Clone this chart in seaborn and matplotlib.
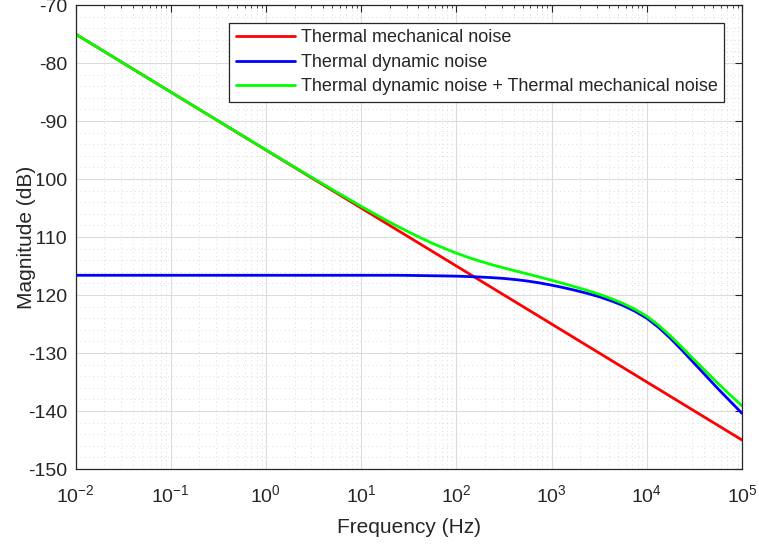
import matplotlib
matplotlib.use("Agg")
import matplotlib.pyplot as plt
import pandas as pd
import seaborn as sns
from matplotlib.ticker import LogLocator, MultipleLocator, NullFormatter, FixedLocator

# ---- data ----
freq_hz = [0.01, 0.01778, 0.03162, 0.05623, 0.1, 0.1778, 0.3162, 0.5623,
           1, 1.778, 3.162, 5.623,
           10, 13.34, 17.78, 23.71, 31.62, 42.17, 56.23, 74.99,
           100, 133.4, 177.8, 237.1, 316.2, 421.7, 562.3, 749.9,
           1000, 1334, 1778, 2371, 3162, 4217, 5623, 7499,
           10000, 13340, 17780, 23710, 31620, 42170, 56230, 74990,
           100000]

thermal_mechanical_db = [-75.0, -77.5, -80.0, -82.5, -85.0, -87.5, -90.0, -92.5,
                         -95.0, -97.5, -100.0, -102.5,
                         -105.0, -106.25, -107.5, -108.75, -110.0, -111.25, -112.5, -113.75,
                         -115.0, -116.25, -117.5, -118.75, -120.0, -121.25, -122.5, -123.75,
                         -125.0, -126.25, -127.5, -128.75, -130.0, -131.25, -132.5, -133.75,
                         -135.0, -136.25, -137.5, -138.75, -140.0, -141.25, -142.5, -143.75,
                         -145.0]

thermal_dynamic_db = [-116.6, -116.6, -116.6, -116.6, -116.6, -116.6, -116.6, -116.6,
                      -116.6, -116.6, -116.6, -116.6,
                      -116.6, -116.6, -116.6, -116.6, -116.62, -116.65, -116.68, -116.71,
                      -116.75, -116.82, -116.9, -117.01, -117.15, -117.35, -117.6, -117.92,
                      -118.3, -118.73, -119.2, -119.72, -120.3, -121.0, -121.8, -122.8,
                      -124.0, -125.6, -127.5, -129.6, -131.8, -134.0, -136.2, -138.3,
                      -140.4]

combined_db = [-75.0, -77.5, -80.0, -82.5, -85.0, -87.5, -89.99, -92.48,
               -94.97, -97.45, -99.9, -102.33,
               -104.71, -105.87, -107.0, -108.09, -109.14, -110.15, -111.1, -111.97,
               -112.78, -113.52, -114.18, -114.78, -115.33, -115.87, -116.38, -116.91,
               -117.46, -118.02, -118.6, -119.21, -119.86, -120.61, -121.45, -122.46,
               -123.67, -125.24, -127.09, -129.1, -131.19, -133.25, -135.29, -137.21,
               -139.11]

series_labels = ["Thermal mechanical noise",
                 "Thermal dynamic noise",
                 "Thermal dynamic noise + Thermal mechanical noise"]
series_colors = ["#ff0000", "#0000ff", "#00ff00"]

y_ticks = [-150, -140, -130, -120, -110, -100, -90, -80, -70]
x_ticks = [1e-2, 1e-1, 1e0, 1e1, 1e2, 1e3, 1e4, 1e5]

# ---- long table ----
rows = []
for lab, vals in zip(series_labels, [thermal_mechanical_db, thermal_dynamic_db, combined_db]):
    for f, v in zip(freq_hz, vals):
        rows.append({"freq": f, "db": v, "series": lab})
df = pd.DataFrame(rows)

sns.set_theme(style="white")
plt.rcParams["font.family"] = ["Liberation Sans", "DejaVu Sans"]
plt.rcParams["mathtext.default"] = "regular"
plt.rcParams["axes.unicode_minus"] = False

ink = "#262626"

fig = plt.figure(figsize=(7.59, 5.45), dpi=100)
ax = fig.add_axes([75.5 / 759, (545 - 469) / 545, (742 - 75.5) / 759, (469 - 5) / 545])

sns.lineplot(data=df, x="freq", y="db", hue="series", hue_order=series_labels,
             palette=dict(zip(series_labels, series_colors)), linewidth=2.0,
             estimator=None, sort=False, ax=ax)

ax.set_xscale("log")
ax.set_xlim(1e-2, 1e5)
ax.set_ylim(-150, -70)
ax.xaxis.set_major_locator(FixedLocator(x_ticks))
ax.xaxis.set_minor_locator(LogLocator(base=10, subs=[2, 3, 4, 5, 6, 7, 8, 9], numticks=20))
ax.xaxis.set_minor_formatter(NullFormatter())
ax.yaxis.set_major_locator(FixedLocator(y_ticks))
ax.yaxis.set_minor_locator(MultipleLocator(2))

ax.grid(which="major", color="#dcdcdc", linestyle="-", linewidth=0.8)
ax.grid(which="minor", color="#d0d0d0", linestyle=(0, (1, 4)), linewidth=0.6)
ax.set_axisbelow(True)

ax.tick_params(which="both", direction="in", top=True, right=True, colors=ink,
               labelcolor=ink, labelsize=14)
ax.tick_params(which="major", length=5, width=0.8)
ax.tick_params(axis="x", which="minor", length=2.5, width=0.6)
ax.tick_params(axis="y", which="minor", length=0)
ax.tick_params(axis="x", which="major", pad=11)
ax.tick_params(axis="y", which="major", pad=6)

for s in ax.spines.values():
    s.set_visible(True)
    s.set_color(ink)
    s.set_linewidth(0.9)

ax.set_xlabel("Frequency (Hz)", fontsize=15, color=ink)
ax.set_ylabel("Magnitude (dB)", fontsize=15, color=ink,
              bbox=dict(facecolor="white", edgecolor="none", pad=0.5))
ax.yaxis.set_label_coords(-0.059, 0.5)
ax.xaxis.set_label_coords(0.5, -0.105)

handles, _ = ax.get_legend_handles_labels()
leg = ax.legend(handles=handles[-3:], labels=series_labels, loc="upper right",
                bbox_to_anchor=(1 - 18 / 667, 1 - 18 / 464), borderaxespad=0,
                fontsize=13, frameon=True, fancybox=False, framealpha=1,
                edgecolor=ink, handlelength=3.3, handletextpad=0.3,
                labelspacing=0.42, borderpad=0.35)
leg.get_frame().set_linewidth(0.9)
for t in leg.get_texts():
    t.set_color(ink)

fig.savefig("out.png", dpi=100)
